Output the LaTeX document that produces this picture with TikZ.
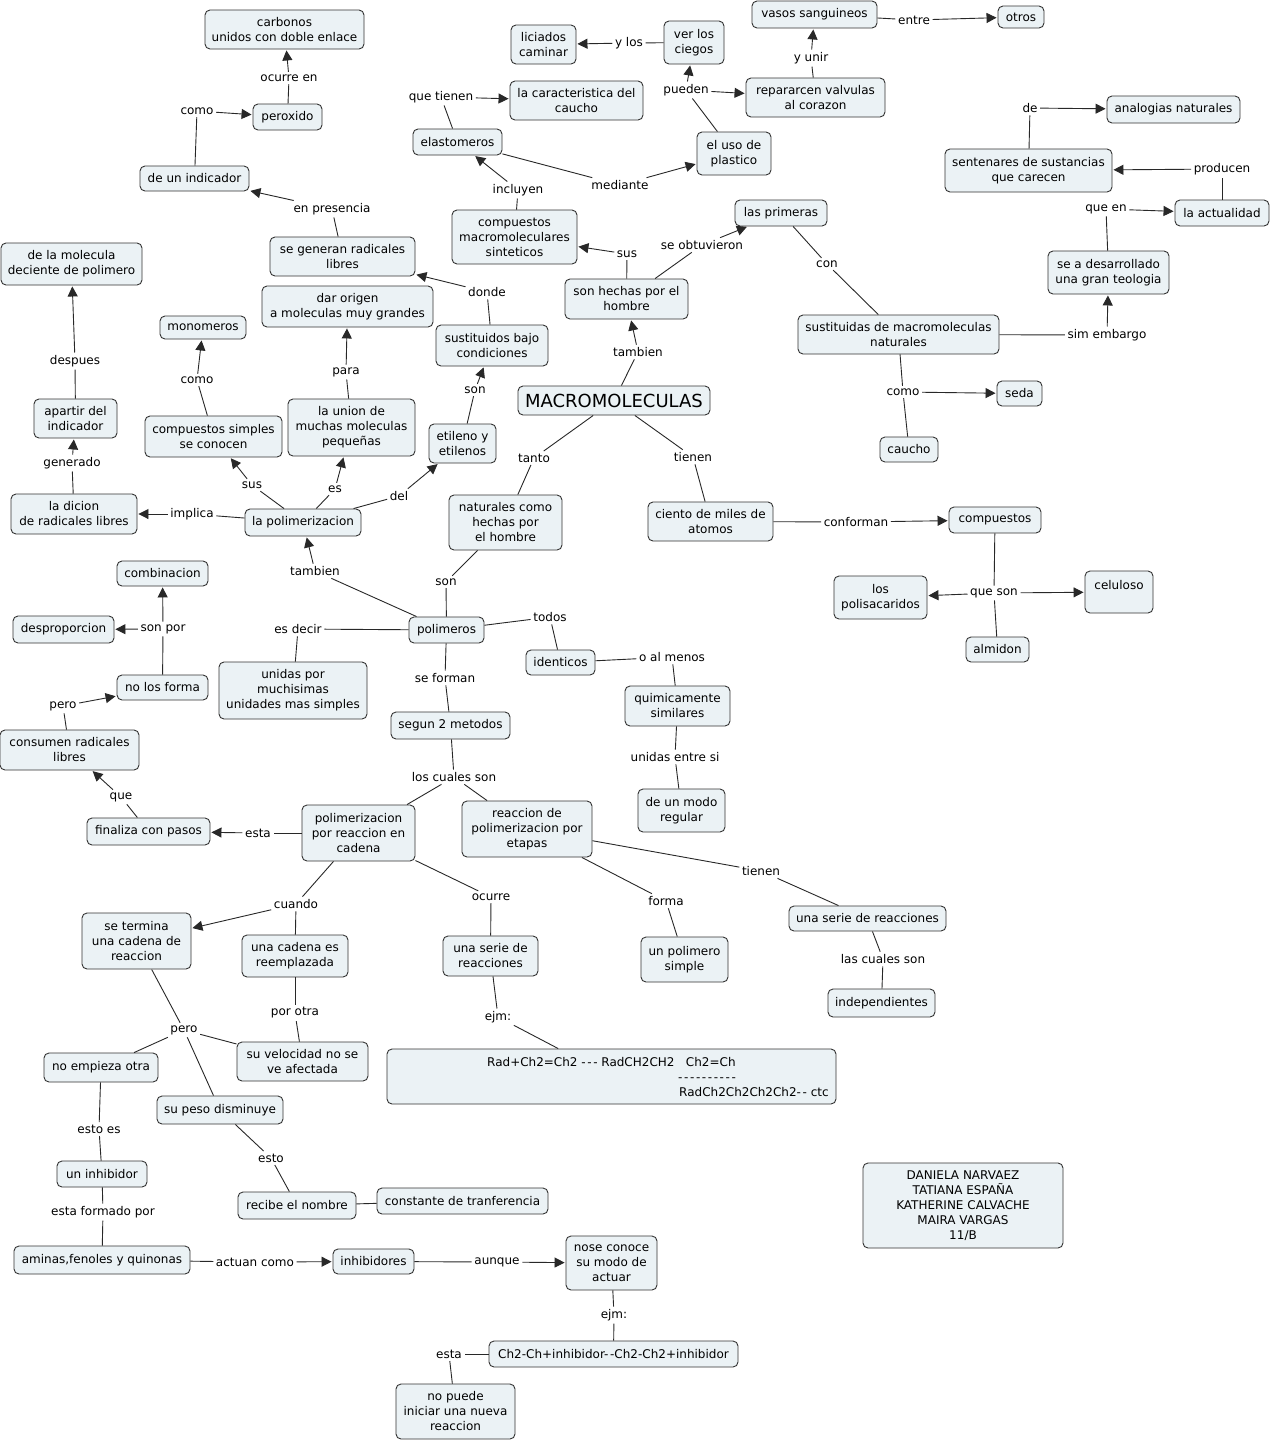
\documentclass[tikz,border=0pt]{standalone}
\usepackage{fontspec}
\setmainfont{DejaVu Sans}
\usetikzlibrary{arrows.meta}
\definecolor{boxfill}{RGB}{235,242,245}
\definecolor{edgegray}{RGB}{40,40,40}
\newcommand\hy{-\kern1.6pt}
\newcommand\mkc[5]{\node[cbox,minimum width=#3pt,minimum height=#4pt] (#1) at (#2) {#5};}
\newcommand\mkl[3]{\node[lbl] (#1) at (#2) {#3};}
\newcommand\mkline[2]{\draw[con] (#1) -- (#2);}
\newcommand\mkarrow[2]{\draw[arr] (#1) -- (#2);}
\tikzset{
  cbox/.style={draw=black!80, line width=0.9pt, rounded corners=5pt, fill=boxfill, align=center, inner sep=1pt, text=black},
  lbl/.style={inner sep=2.5pt, text=black, align=center},
  con/.style={draw=edgegray, line width=0.9pt},
  arr/.style={con, -{Triangle[length=10pt,width=10pt]}, shorten >=1pt},
}
\begin{document}
\begin{tikzpicture}[x=1pt,y=-1pt,font=\fontsize{12}{15}\selectfont]
\path[use as bounding box, fill=white] (0,0) rectangle (1271,1441);

% ---------- concepts ----------
\mkc{carb}{284.5,29.5}{159}{39}{carbonos\\unidos con doble enlace}
\mkc{perox}{287.5,117}{69}{26}{peroxido}
\mkc{indic}{194.5,178.5}{109}{25}{de un indicador}
\mkc{segen}{342.5,256.5}{145}{39}{se generan radicales\\libres}
\mkc{darorig}{347.5,306.5}{171}{41}{dar origen\\a moleculas muy grandes}
\mkc{delamol}{71.5,264}{141}{42}{de la molecula\\deciente de polimero}
\mkc{monom}{203,327.5}{86}{23}{monomeros}
\mkc{apartir}{75.5,418.5}{83}{39}{apartir del\\indicador}
\mkc{compsimp}{213.5,436.5}{137}{41}{compuestos simples\\se conocen}
\mkc{union}{351.5,427.5}{127}{57}{la union de\\muchas moleculas\\pequeñas}
\mkc{sustbajo}{492,345.5}{112}{41}{sustituidos bajo\\condiciones}
\mkc{etileno}{462.5,443.5}{67}{39}{etileno y\\etilenos}
\mkc{dicion}{74,514}{126}{40}{la dicion\\de radicales libres}
\mkc{polim}{303,522.5}{116}{27}{la polimerizacion}
\mkc{elast}{457.5,142}{89}{26}{elastomeros}
\mkc{caract}{576.5,100.5}{133}{39}{la caracteristica del\\caucho}
\mkc{liciados}{543.5,44.5}{65}{39}{liciados\\caminar}
\mkc{verlos}{694,42.5}{60}{43}{ver los\\ciegos}
\mkc{vasos}{814.5,14.5}{125}{27}{vasos sanguineos}
\mkc{otros}{1021,17}{46}{22}{otros}
\mkc{repar}{815.5,97.5}{139}{39}{repararcen valvulas\\al corazon}
\mkc{usoplas}{734,153.5}{74}{43}{el uso de\\plastico}
\mkc{compmacro}{514.5,237}{125}{54}{compuestos\\macromoleculares\\sinteticos}
\mkc{primeras}{781,213}{92}{26}{las primeras}
\mkc{sonhechas}{626.5,299}{123}{40}{son hechas por el\\hombre}
\mkc{analog}{1173.5,109.5}{133}{27}{analogias naturales}
\mkc{senten}{1028.5,170.5}{167}{43}{sentenares de sustancias\\que carecen}
\mkc{actual}{1222,213}{94}{26}{la actualidad}
\mkc{desarr}{1108.5,272.5}{121}{43}{se a desarrollado\\una gran teologia}
\mkc{sustnat}{898.5,334.5}{201}{39}{sustituidas de macromoleculas\\naturales}
\mkc{seda}{1019.5,393.5}{45}{25}{seda}
\mkc{caucho}{909,449.5}{58}{25}{caucho}
\node[cbox,minimum width=192pt,minimum height=29pt,font=\fontsize{18}{21}\selectfont] (macro) at (614,400.5) {MACROMOLECULAS};
\mkc{naturales}{505.5,522.5}{113}{55}{naturales como\\hechas por\\el hombre}
\mkc{ciento}{710.5,521.5}{125}{39}{ciento de miles de\\atomos}
\mkc{compuestos}{995,520}{92}{26}{compuestos}
\mkc{polisac}{880.5,597.5}{93}{43}{los\\polisacaridos}
\mkc{celul}{1119,592}{68}{42}{celuloso\\\mbox{}}
\mkc{almidon}{997.5,649.5}{63}{25}{almidon}
\mkc{combin}{162.5,573.5}{91}{25}{combinacion}
\mkc{desprop}{63.5,629.5}{101}{27}{desproporcion}
\mkc{noforma}{162.5,687.5}{91}{25}{no los forma}
\mkc{consumen}{69.5,750}{139}{40}{consumen radicales\\libres}
\mkc{unidas}{293,690.5}{148}{57}{unidas por\\muchisimas\\unidades mas simples}
\mkc{polimeros}{446.5,630}{75}{26}{polimeros}
\mkc{identicos}{560.5,662.5}{69}{25}{identicos}
\mkc{quimic}{677.5,706}{105}{40}{quimicamente\\similares}
\mkc{modoreg}{681.5,810.5}{87}{43}{de un modo\\regular}
\mkc{segun}{450.5,725.5}{119}{27}{segun 2 metodos}
\mkc{finaliza}{148.5,831.5}{123}{27}{finaliza con pasos}
\mkc{cadena}{358.5,833}{113}{56}{polimerizacion\\por reaccion en\\cadena}
\mkc{etapas}{527,829}{130}{56}{reaccion de\\polimerizacion por\\etapas}
\mkc{setermina}{136.5,941}{109}{56}{se termina\\una cadena de\\reaccion}
\mkc{reempl}{295,956}{106}{42}{una cadena es\\reemplazada}
\mkc{serie}{490.5,956}{95}{40}{una serie de\\reacciones}
\mkc{polsimple}{684.5,959.5}{87}{45}{un polimero\\simple}
\mkc{serie2}{867.5,918.5}{157}{25}{una serie de reacciones}
\mkc{independ}{881.5,1003}{107}{28}{independientes}
\mkc{veloc}{302.5,1061.5}{131}{39}{su velocidad no se\\ve afectada}
\mkc{noempieza}{101,1067.5}{114}{29}{no empieza otra}
\mkc{peso}{220,1110}{126}{28}{su peso disminuye}
\mkc{radbox}{611.5,1076.5}{449}{55}{}
\node[inner sep=0pt, anchor=west, align=left] (radtxt) at (487,1077.5)
  {Rad+Ch2=Ch2 \hy\hy- RadCH2CH2\ \ \ Ch2=Ch\\
   \hspace*{191pt}\hy\hy\hy\hy\hy\hy\hy\hy\hy-\\
   \hspace*{192pt}RadCh2Ch2Ch2Ch2\hy- ctc};
\mkc{inhib}{102,1174}{90}{26}{un inhibidor}
\mkc{recibe}{297,1205.5}{118}{27}{recibe el nombre}
\mkc{constante}{462.5,1201}{171}{26}{constante de tranferencia}
\mkc{aminas}{102,1260}{176}{28}{aminas,fenoles y quinonas}
\mkc{inhibidores}{373.5,1261.5}{81}{25}{inhibidores}
\mkc{nose}{611.5,1263}{91}{54}{nose conoce\\su modo de\\actuar}
\mkc{chdos}{613.5,1354}{249}{26}{Ch2-Ch+inhibidor\hy-Ch2-Ch2+inhibidor}
\mkc{nopuede}{455.5,1411.5}{119}{55}{no puede\\iniciar una nueva\\reaccion}
\mkc{autores}{963,1205.5}{200}{85}{DANIELA NARVAEZ\\TATIANA ESPAÑA\\KATHERINE CALVACHE\\MAIRA VARGAS\\11/B}

% ---------- linking phrases ----------
\mkl{locurreen}{289,78}{ocurre en}
\mkl{lcomoa}{197,111}{como}
\mkl{lenpres}{332,209}{en presencia}
\mkl{ldonde}{487,292}{donde}
\mkl{ldespues}{75,361}{despues}
\mkl{lcomob}{197,380}{como}
\mkl{lpara}{346,372}{para}
\mkl{lsona}{475,390}{son}
\mkl{lgenerado}{72,463}{generado}
\mkl{lsusa}{252,485}{sus}
\mkl{les}{335,489}{es}
\mkl{ldel}{399,496}{del}
\mkl{limplica}{192,514}{implica}
\mkl{lquetienen}{441,97}{que tienen}
\mkl{lylos}{629,43}{y los}
\mkl{lpueden}{686,90}{pueden}
\mkl{lyunir}{811,58}{y unir}
\mkl{lentre}{914,20}{entre}
\mkl{lincluyen}{518,190}{incluyen}
\mkl{lmediante}{620,185}{mediante}
\mkl{lsusb}{627,254}{sus}
\mkl{lseobt}{702,245}{se obtuvieron}
\mkl{lcon}{827,264}{con}
\mkl{ltambiena}{638,352}{tambien}
\mkl{lde}{1030,108}{de}
\mkl{lproducen}{1222,169}{producen}
\mkl{lqueen}{1106,209}{que en}
\mkl{lsimemb}{1107,335}{sim embargo}
\mkl{lcomoc}{903,392}{como}
\mkl{ltanto}{534,458}{tanto}
\mkl{ltienena}{693,457}{tienen}
\mkl{lconforman}{856,522}{conforman}
\mkl{lqueson}{994,593}{que son}
\mkl{ltambienb}{315,571}{tambien}
\mkl{lsonb}{446,582}{son}
\mkl{lsonpor}{163,629}{son por}
\mkl{lesdecir}{298,629}{es decir}
\mkl{ltodos}{550,617}{todos}
\mkl{loalmenos}{672,657}{o al menos}
\mkl{lperoa}{63,706}{pero}
\mkl{lseforman}{445,678}{se forman}
\mkl{lunidasentre}{675,757}{unidas entre si}
\mkl{lloscuales}{454,777}{los cuales son}
\mkl{lque}{121,797}{que}
\mkl{lestaa}{258,833}{esta}
\mkl{ltienenb}{761,871}{tienen}
\mkl{lcuando}{296,904}{cuando}
\mkl{locurre}{491,897}{ocurre}
\mkl{lforma}{666,901}{forma}
\mkl{llascuales}{883,959}{las cuales son}
\mkl{lporotra}{295,1013}{por otra}
\mkl{lejma}{498,1017}{ejm:}
\mkl{lperob}{184,1030}{pero}
\mkl{lestoes}{99,1129}{esto es}
\mkl{lesto}{271,1158}{esto}
\mkl{lestaform}{103,1212}{esta formado por}
\mkl{lactuan}{255,1262}{actuan como}
\mkl{launque}{497,1262}{aunque}
\mkl{lejmb}{614,1315}{ejm:}
\mkl{lestab}{449,1354}{esta}

% ---------- connectors ----------
\mkline{perox}{locurreen}\mkarrow{locurreen}{carb}
\mkline{indic}{lcomoa}\mkarrow{lcomoa}{perox}
\mkline{segen}{lenpres}\mkarrow{lenpres}{indic}
\mkline{sustbajo}{ldonde}\mkarrow{ldonde}{segen}
\mkline{union}{lpara}\mkarrow{lpara}{darorig}
\mkline{polim}{les}\mkarrow{les}{union}
\mkline{polim}{lsusa}\mkarrow{lsusa}{compsimp}
\mkline{compsimp}{lcomob}\mkarrow{lcomob}{monom}
\mkline{polim}{ldel}\mkarrow{ldel}{etileno}
\mkline{etileno}{lsona}\mkarrow{lsona}{sustbajo}
\mkline{polim}{limplica}\mkarrow{limplica}{dicion}
\mkline{dicion}{lgenerado}\mkarrow{lgenerado}{apartir}
\mkline{apartir}{ldespues}\mkarrow{ldespues}{delamol}
\mkline{polimeros}{ltambienb}\mkarrow{ltambienb}{polim}
\mkline{polimeros}{lsonb}\mkline{lsonb}{naturales}
\mkline{macro}{ltanto}\mkline{ltanto}{naturales}
\mkline{macro}{ltienena}\mkline{ltienena}{ciento}
\mkline{ciento}{lconforman}\mkarrow{lconforman}{compuestos}
\mkline{compuestos}{lqueson}\mkarrow{lqueson}{polisac}
\mkarrow{lqueson}{celul}\mkline{lqueson}{almidon}
\mkline{macro}{ltambiena}\mkarrow{ltambiena}{sonhechas}
\mkline{sonhechas}{lsusb}\mkarrow{lsusb}{compmacro}
\mkline{sonhechas}{lseobt}\mkarrow{lseobt}{primeras}
\mkline{compmacro}{lincluyen}\mkarrow{lincluyen}{elast}
\mkline{elast}{lquetienen}\mkarrow{lquetienen}{caract}
\mkline{elast}{lmediante}\mkarrow{lmediante}{usoplas}
\mkline{usoplas}{lpueden}\mkarrow{lpueden}{verlos}\mkarrow{lpueden}{repar}
\mkline{verlos}{lylos}\mkarrow{lylos}{liciados}
\mkline{repar}{lyunir}\mkarrow{lyunir}{vasos}
\mkline{vasos}{lentre}\mkarrow{lentre}{otros}
\mkline{primeras}{lcon}\mkline{lcon}{sustnat}
\mkline{sustnat}{lcomoc}\mkarrow{lcomoc}{seda}\mkline{lcomoc}{caucho}
\mkline{sustnat}{lsimemb}\mkarrow{lsimemb}{desarr}
\mkline{desarr}{lqueen}\mkarrow{lqueen}{actual}
\mkline{actual}{lproducen}\mkarrow{lproducen}{senten}
\mkline{senten}{lde}\mkarrow{lde}{analog}
\mkline{polimeros}{lesdecir}\mkline{lesdecir}{unidas}
\mkline{polimeros}{ltodos}\mkline{ltodos}{identicos}
\mkline{identicos}{loalmenos}\mkline{loalmenos}{quimic}
\mkline{quimic}{lunidasentre}\mkline{lunidasentre}{modoreg}
\mkline{polimeros}{lseforman}\mkline{lseforman}{segun}
\mkline{segun}{lloscuales}\mkline{lloscuales}{cadena}\mkline{lloscuales}{etapas}
\mkline{cadena}{lestaa}\mkarrow{lestaa}{finaliza}
\mkline{finaliza}{lque}\mkarrow{lque}{consumen}
\mkline{consumen}{lperoa}\mkarrow{lperoa}{noforma}
\mkline{noforma}{lsonpor}\mkarrow{lsonpor}{combin}\mkarrow{lsonpor}{desprop}
\mkline{cadena}{lcuando}\mkarrow{lcuando}{setermina}\mkline{lcuando}{reempl}
\mkline{cadena}{locurre}\mkline{locurre}{serie}
\mkline{serie}{lejma}\mkline{lejma}{radbox}
\mkline{etapas}{lforma}\mkline{lforma}{polsimple}
\mkline{etapas}{ltienenb}\mkline{ltienenb}{serie2}
\mkline{serie2}{llascuales}\mkline{llascuales}{independ}
\mkline{reempl}{lporotra}\mkline{lporotra}{veloc}
\mkline{setermina}{lperob}\mkline{lperob}{noempieza}\mkline{lperob}{veloc}\mkline{lperob}{peso}
\mkline{noempieza}{lestoes}\mkline{lestoes}{inhib}
\mkline{peso}{lesto}\mkline{lesto}{recibe}
\mkline{recibe}{constante}
\mkline{inhib}{lestaform}\mkline{lestaform}{aminas}
\mkline{aminas}{lactuan}\mkarrow{lactuan}{inhibidores}
\mkline{inhibidores}{launque}\mkarrow{launque}{nose}
\mkline{nose}{lejmb}\mkline{lejmb}{chdos}
\mkline{chdos}{lestab}\mkline{lestab}{nopuede}
\end{tikzpicture}
\end{document}
